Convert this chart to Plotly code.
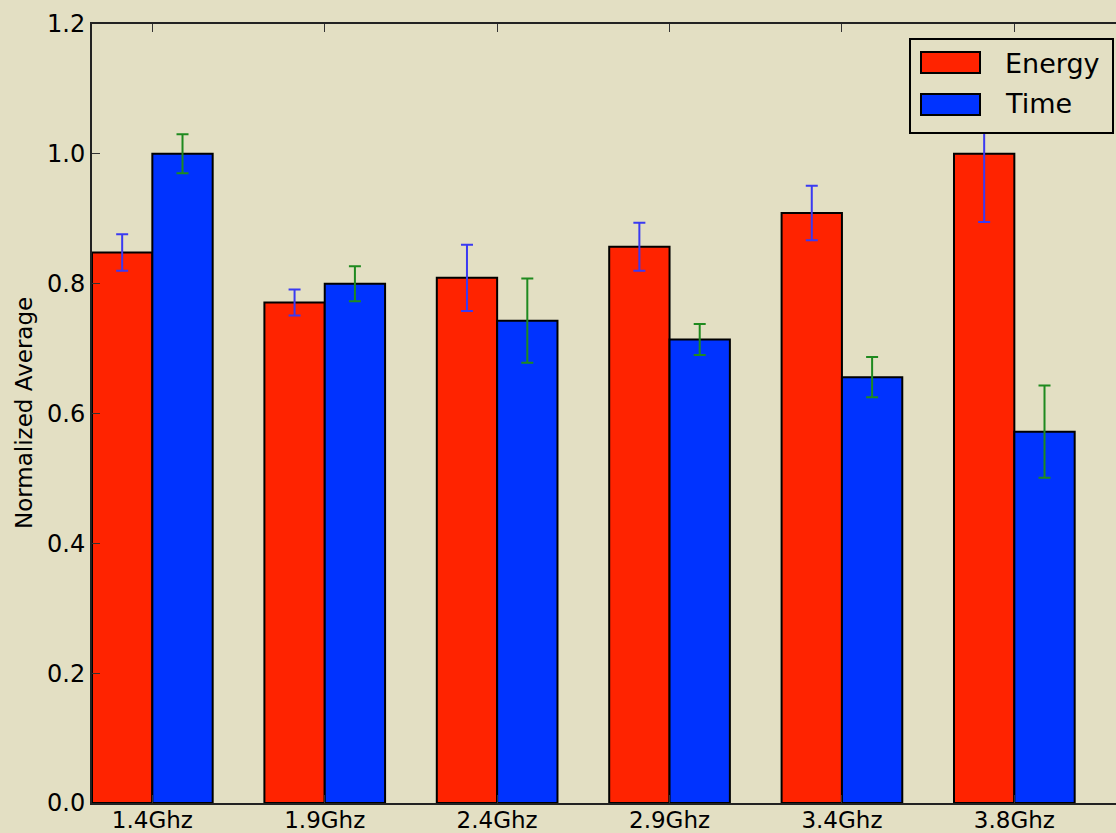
import plotly.graph_objects as go

# Data
freqs = ["1.4Ghz", "1.9Ghz", "2.4Ghz", "2.9Ghz", "3.4Ghz", "3.8Ghz"]
energy = [0.848, 0.771, 0.809, 0.857, 0.909, 1.0]
energy_err = [0.028, 0.020, 0.051, 0.037, 0.042, 0.105]
time_vals = [1.0, 0.800, 0.743, 0.714, 0.656, 0.572]
time_err = [0.030, 0.027, 0.065, 0.024, 0.031, 0.071]

BG = "#e3dfc3"
RED = "#ff2300"
BLUE = "#0033ff"
FONT = "DejaVu Sans"
W, H = 1116, 833
ML, MT, MB, MR = 92, 24, 30, 0
bar_w = 0.35
px_per_unit = 172.4

idx = list(range(len(freqs)))
x_energy = [i + bar_w / 2 for i in idx]
x_time = [i + bar_w * 1.5 for i in idx]
x_ticks = [i + bar_w for i in idx]

fig = go.Figure()
fig.add_trace(go.Bar(
    x=x_energy, y=energy, width=bar_w, name="Energy",
    marker=dict(color=RED, line=dict(color="black", width=2)),
    error_y=dict(type="data", array=energy_err, color="#3a3af2", thickness=2, width=6),
))
fig.add_trace(go.Bar(
    x=x_time, y=time_vals, width=bar_w, name="Time",
    marker=dict(color=BLUE, line=dict(color="black", width=2)),
    error_y=dict(type="data", array=time_err, color="#1f8a1f", thickness=2, width=6),
))

plot_w = W - ML - MR
plot_h = H - MT - MB


def px(xp):
    return (xp - ML) / plot_w


def py(yp):
    return (H - MB - yp) / plot_h


# Legend box drawn on top of the plot
shapes = [
    dict(type="rect", xref="paper", yref="paper", x0=px(910), x1=px(1113), y0=py(133), y1=py(39),
         line=dict(color="black", width=2), fillcolor=BG, layer="above"),
    dict(type="rect", xref="paper", yref="paper", x0=px(921), x1=px(980), y0=py(73), y1=py(52),
         line=dict(color="black", width=2), fillcolor=RED, layer="above"),
    dict(type="rect", xref="paper", yref="paper", x0=px(921), x1=px(980), y0=py(115), y1=py(94),
         line=dict(color="black", width=2), fillcolor=BLUE, layer="above"),
]
annotations = [
    dict(text="Energy", xref="paper", yref="paper", x=px(1003), y=py(63), xanchor="left", yanchor="middle",
         showarrow=False, font=dict(family=FONT, size=27, color="black")),
    dict(text="Time", xref="paper", yref="paper", x=px(1003), y=py(104), xanchor="left", yanchor="middle",
         showarrow=False, font=dict(family=FONT, size=27, color="black")),
    dict(text="Normalized Average", xref="paper", yref="paper", x=px(24), y=py(413), xanchor="center",
         yanchor="middle", textangle=-90, showarrow=False, font=dict(family=FONT, size=23, color="black")),
]

fig.update_layout(
    width=W, height=H,
    margin=dict(l=ML, r=MR, t=MT, b=MB, pad=0, autoexpand=False),
    paper_bgcolor=BG, plot_bgcolor=BG,
    barmode="overlay", showlegend=False,
    font=dict(family=FONT, size=24, color="black"),
    shapes=shapes, annotations=annotations,
)
fig.update_xaxes(
    range=[0, plot_w / px_per_unit],
    tickvals=x_ticks, ticktext=freqs,
    showgrid=False, zeroline=False, automargin=False,
    showline=True, linecolor="#222222", linewidth=2, mirror="ticks",
    ticks="inside", ticklen=8, tickwidth=1, tickcolor="#333333",
    ticklabelstandoff=-5,
    tickfont=dict(family=FONT, size=23, color="black"),
)
fig.update_yaxes(
    range=[0, 1.2], dtick=0.2, tickformat=".1f",
    showgrid=False, zeroline=False, automargin=False,
    showline=True, linecolor="#222222", linewidth=2, mirror=False,
    ticks="inside", ticklen=8, tickwidth=1, tickcolor="#333333",
    tickfont=dict(family=FONT, size=24, color="black"),
)

fig.write_html("out.html")
